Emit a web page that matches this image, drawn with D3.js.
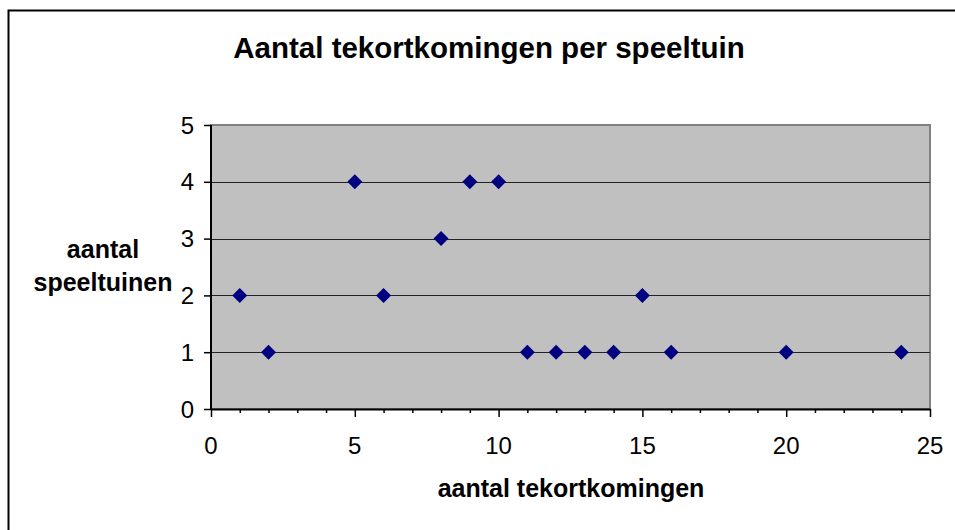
<!DOCTYPE html>
<html><head><meta charset="utf-8">
<script src="https://cdn.jsdelivr.net/npm/d3@7"></script>
<style>body{margin:0;background:#fff}svg{display:block}text{font-family:Arial,"Liberation Sans",sans-serif}</style>
</head><body>
<script>
const xValues = [1, 2, 5, 6, 8, 9, 10, 11, 12, 13, 14, 15, 16, 20, 24];
const yValues = [2, 1, 4, 2, 3, 4, 4, 1, 1, 1, 1, 2, 1, 1, 1];
const xTicks = [0, 5, 10, 15, 20, 25];
const yTicks = [0, 1, 2, 3, 4, 5];
const title = "Aantal tekortkomingen per speeltuin";
const xTitle = "aantal tekortkomingen";
const yTitle = ["aantal", "speeltuinen"];

const W = 955, H = 530;
const svg = d3.select("body").append("svg").attr("width", W).attr("height", H);
svg.append("rect").attr("x", 8.5).attr("y", 10.5).attr("width", 1000).attr("height", 1000)
  .attr("fill", "#fff").attr("stroke", "#000").attr("stroke-width", 2);

const L = 211, R = 930, T = 125, B = 409;
const x = d3.scaleLinear().domain([0, 25]).range([L, R]);
const y = d3.scaleLinear().domain([0, 5]).range([B, T]);

svg.append("rect").attr("x", L).attr("y", T).attr("width", R - L).attr("height", B - T)
  .attr("fill", "#c0c0c0").attr("stroke", "#808080").attr("stroke-width", 2);

// gridlines
svg.append("g").selectAll("line").data(yTicks.filter(d => d > 0 && d < 5)).join("line")
  .attr("x1", L).attr("x2", R).attr("y1", d => Math.round(y(d)) + 0.5).attr("y2", d => Math.round(y(d)) + 0.5)
  .attr("stroke", "#222").attr("stroke-width", 1);

// x axis
const xAxis = svg.append("g").attr("transform", `translate(0,${B})`)
  .call(d3.axisBottom(x).tickValues(d3.range(0, 26)).tickSize(0).tickFormat(""));
xAxis.select(".domain").attr("stroke", "#000").attr("stroke-width", 2);
xAxis.selectAll(".tick line").attr("y2", d => d % 5 === 0 ? 8 : 4).attr("stroke", "#000").attr("stroke-width", 1.5);
svg.append("g").selectAll("text").data(xTicks).join("text")
  .attr("x", d => x(d)).attr("y", 454).attr("text-anchor", "middle")
  .attr("font-size", 24).text(d => d);

// y axis
const yAxis = svg.append("g").attr("transform", `translate(${L},0)`)
  .call(d3.axisLeft(y).tickValues(yTicks).tickSize(7).tickFormat(""));
yAxis.select(".domain").attr("stroke", "#000").attr("stroke-width", 2).attr("d", `M0,${T}V${B}`);
yAxis.selectAll(".tick line").attr("stroke", "#000").attr("stroke-width", 1.5);
svg.append("g").selectAll("text").data(yTicks).join("text")
  .attr("x", 194).attr("y", d => y(d) + 8.5).attr("text-anchor", "end")
  .attr("font-size", 24).text(d => d);

// points
const sym = d3.symbol().type(d3.symbolSquare).size(112);
svg.append("g").selectAll("path").data(xValues.map((v, i) => [v, yValues[i]])).join("path")
  .attr("d", sym).attr("fill", "#000080")
  .attr("transform", d => `translate(${x(d[0])},${y(d[1])}) rotate(45)`);

// titles
svg.append("text").attr("x", 489).attr("y", 58).attr("text-anchor", "middle")
  .attr("font-size", 29.5).attr("font-weight", "bold").text(title);
svg.append("text").attr("x", 571).attr("y", 497).attr("text-anchor", "middle")
  .attr("font-size", 25).attr("font-weight", "bold").text(xTitle);
svg.append("g").selectAll("text").data(yTitle).join("text")
  .attr("x", 103).attr("y", (d, i) => 258 + i * 33).attr("text-anchor", "middle")
  .attr("font-size", 25).attr("font-weight", "bold").text(d => d);
</script>
</body></html>
